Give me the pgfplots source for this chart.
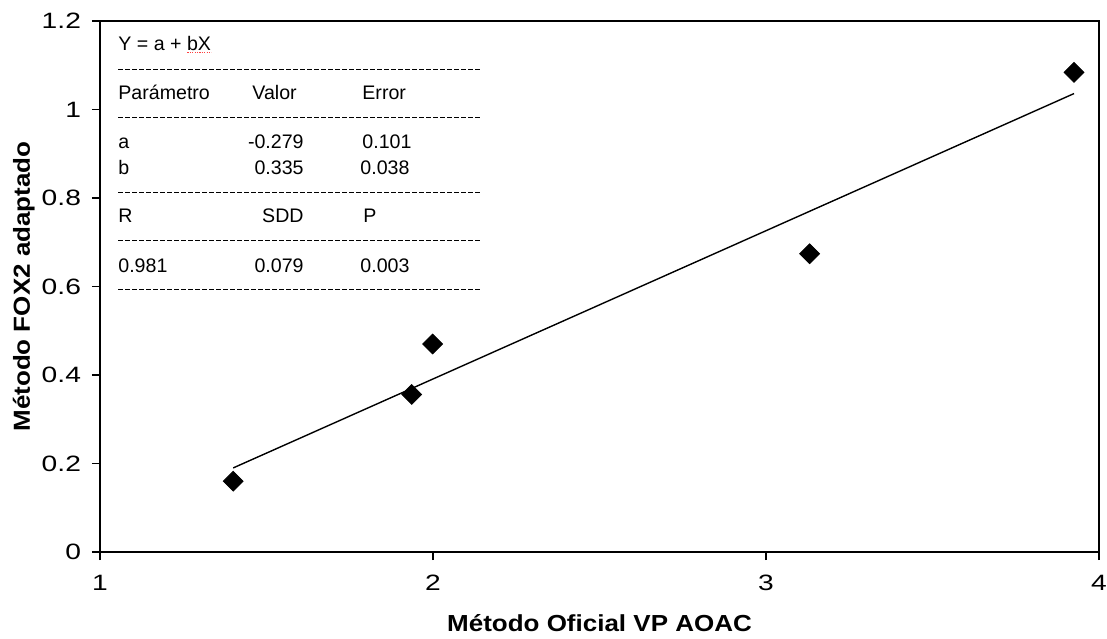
\documentclass[border=0pt]{standalone}
\usepackage{fontspec}
\setmainfont{Liberation Sans}
\newfontfamily\tickfont{Liberation Sans}[FakeStretch=1.27]
\newfontfamily\labelfont{Liberation Sans}[FakeStretch=1.12]
\usepackage{pgfplots}
\pgfplotsset{compat=1.18}
\usetikzlibrary{calc}

\begin{document}
\begin{tikzpicture}
% page size: 553.5pt x 319pt, axis box lower-left at the origin
\path[use as bounding box] (-50pt,-43pt) rectangle (503.5pt,276pt);
\begin{axis}[
  scale only axis,
  width=499.5pt, height=265.5pt,
  xmin=1, xmax=4, ymin=0, ymax=1.2,
  xtick={1,2,3,4},
  ytick={0,0.2,0.4,0.6,0.8,1,1.2},
  tick pos=left,
  tick align=outside,
  major tick length=4pt,
  axis line style={line width=0.9pt},
  every tick/.style={black, line width=0.8pt},
  /pgf/number format/assume math mode=true,
  ticklabel style={font=\tickfont\fontsize{11.1}{13}\selectfont},
  yticklabel style={/pgf/number format/fixed, xshift=-2pt},
  xticklabel style={yshift=-4pt},
  xlabel={Método Oficial VP AOAC},
  ylabel={Método FOX2 adaptado},
  every axis x label/.style={at={(axis description cs:0.5,0)}, anchor=base,
    yshift=-39.5pt, font=\labelfont\bfseries\fontsize{11.6}{14}\selectfont},
  every axis y label/.style={at={(axis description cs:0,0.5)}, xshift=-35pt,
    rotate=90, anchor=base, font=\labelfont\bfseries\fontsize{11.6}{14}\selectfont},
  clip=false,
]
% regression line Y = -0.279 + 0.335 X over the measured range
\addplot[black, line width=0.7pt, no marks] coordinates {(1.40,0.190) (3.925,1.036)};
% measured samples
\addplot[only marks, mark=square*, mark size=3.5pt,
  mark options={rotate=45, fill=black, draw=black}]
  coordinates {(1.40,0.160) (1.936,0.356) (1.999,0.470) (3.131,0.674) (3.925,1.084)};
\end{axis}

% regression summary
\begin{scope}[every node/.style={inner sep=0pt, font=\fontsize{9.8}{11.8}\selectfont}]
\node[anchor=base west] (eq) at (9pt,250.7pt) {Y = a + bX};
\draw[red!75, line width=0.4pt, dash pattern=on 0.6pt off 0.6pt]
  ($(eq.base east)+(-12pt,-1pt)$) -- ($(eq.base east)+(0pt,-1pt)$);
\foreach \yy in {241,217,180,156,131.5}
  \draw[black, line width=0.5pt, dash pattern=on 2.5pt off 1pt] (9pt,\yy pt) -- (190pt,\yy pt);
\node[anchor=base west] at (9pt,226pt) {Parámetro};
\node[anchor=base west] at (76pt,226pt) {Valor};
\node[anchor=base west] at (131pt,226pt) {Error};
\node[anchor=base west] at (9pt,201.5pt) {a};
\node[anchor=base east] at (102pt,201.5pt) {-0.279};
\node[anchor=base west] at (131pt,201.5pt) {0.101};
\node[anchor=base west] at (9pt,189pt) {b};
\node[anchor=base east] at (102pt,189pt) {0.335};
\node[anchor=base west] at (130pt,189pt) {0.038};
\node[anchor=base west] at (9pt,164.5pt) {R};
\node[anchor=base east] at (102pt,164.5pt) {SDD};
\node[anchor=base west] at (131.5pt,164.5pt) {P};
\node[anchor=base west] at (9pt,140pt) {0.981};
\node[anchor=base east] at (102pt,140pt) {0.079};
\node[anchor=base west] at (130pt,140pt) {0.003};
\end{scope}
\end{tikzpicture}
\end{document}
